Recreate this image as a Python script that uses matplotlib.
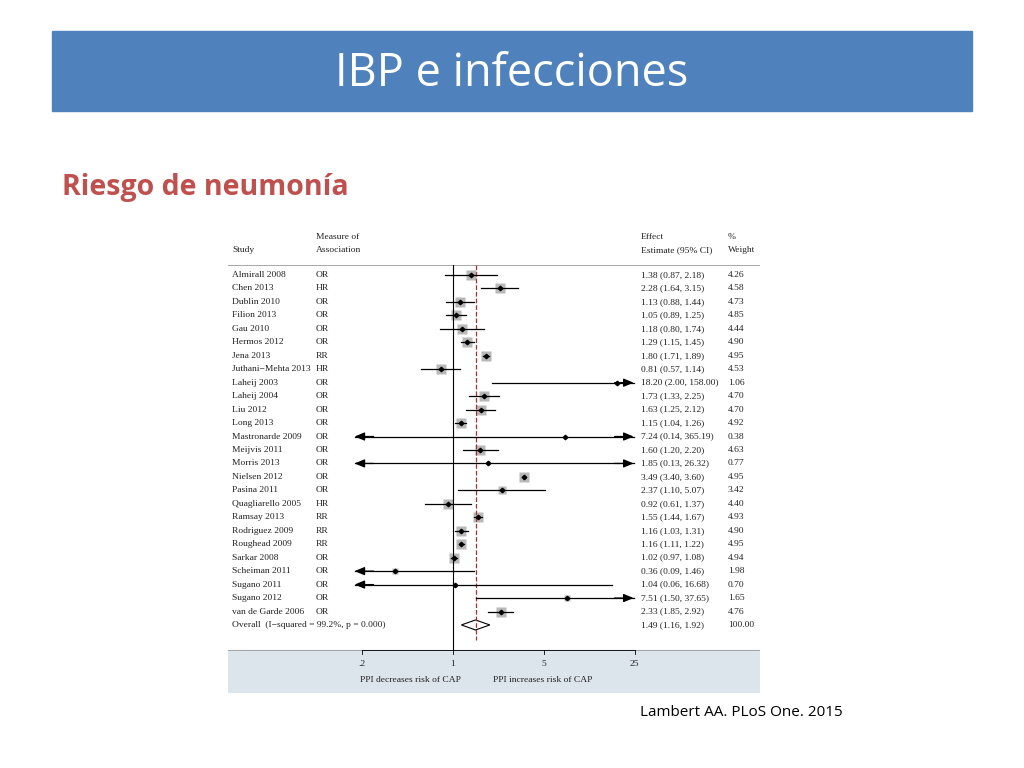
import numpy as np
import matplotlib
matplotlib.use('Agg')
import matplotlib.pyplot as plt
from matplotlib.patches import Rectangle, Polygon

studies = ["Almirall 2008", "Chen 2013", "Dublin 2010", "Filion 2013", "Gau 2010",
           "Hermos 2012", "Jena 2013", "Juthani\u2212Mehta 2013", "Laheij 2003", "Laheij 2004",
           "Liu 2012", "Long 2013", "Mastronarde 2009", "Meijvis 2011", "Morris 2013",
           "Nielsen 2012", "Pasina 2011", "Quagliarello 2005", "Ramsay 2013", "Rodriguez 2009",
           "Roughead 2009", "Sarkar 2008", "Scheiman 2011", "Sugano 2011", "Sugano 2012",
           "van de Garde 2006"]
measure = ["OR", "HR", "OR", "OR", "OR", "OR", "RR", "HR", "OR", "OR", "OR", "OR", "OR",
           "OR", "OR", "OR", "OR", "HR", "RR", "RR", "RR", "OR", "OR", "OR", "OR", "OR"]
est = [1.38, 2.28, 1.13, 1.05, 1.18, 1.29, 1.80, 0.81, 18.20, 1.73, 1.63, 1.15, 7.24,
       1.60, 1.85, 3.49, 2.37, 0.92, 1.55, 1.16, 1.16, 1.02, 0.36, 1.04, 7.51, 2.33]
lo = [0.87, 1.64, 0.88, 0.89, 0.80, 1.15, 1.71, 0.57, 2.00, 1.33, 1.25, 1.04, 0.14,
      1.20, 0.13, 3.40, 1.10, 0.61, 1.44, 1.03, 1.11, 0.97, 0.09, 0.06, 1.50, 1.85]
hi = [2.18, 3.15, 1.44, 1.25, 1.74, 1.45, 1.89, 1.14, 158.00, 2.25, 2.12, 1.26, 365.19,
      2.20, 26.32, 3.60, 5.07, 1.37, 1.67, 1.31, 1.22, 1.08, 1.46, 16.68, 37.65, 2.92]
weight = [4.26, 4.58, 4.73, 4.85, 4.44, 4.90, 4.95, 4.53, 1.06, 4.70, 4.70, 4.92, 0.38,
          4.63, 0.77, 4.95, 3.42, 4.40, 4.93, 4.90, 4.95, 4.94, 1.98, 0.70, 1.65, 4.76]
overall = (1.49, 1.16, 1.92)
overall_label = "Overall  (I\u2212squared = 99.2%, p = 0.000)"
ticks = [0.2, 1, 5, 25]
tick_labels = [".2", "1", "5", "25"]

fig = plt.figure(figsize=(10.24, 7.68), dpi=100)
bg = fig.add_axes([0, 0, 1, 1])
bg.set_xlim(0, 1024); bg.set_ylim(768, 0); bg.axis('off')
bg.add_patch(Rectangle((52, 31), 920, 80, color='#4f81bd'))
bg.text(512, 74, "IBP e infecciones", color='white', fontsize=32.5, family='Open Sans',
        ha='center', va='center')
bg.text(62, 188, "Riesgo de neumonía", color='#c0504d', fontsize=20.5, family='Open Sans',
        weight='bold', ha='left', va='center')
bg.text(640, 713, "Lambert AA. PLoS One. 2015", fontsize=11, family='Open Sans',
        ha='left', va='center')

# forest plot area in pixels: x 228-760, y 228-693
x0, x1, y0, y1 = 228, 760, 228, 693
ax = fig.add_axes([x0 / 1024, 1 - y1 / 768, (x1 - x0) / 1024, (y1 - y0) / 768])
ax.set_xscale('log')

def v(px):
    return 10 ** ((px - 453) / 130.0)

ax.set_xlim(v(x0), v(x1))
ax.set_ylim(y1, y0)
ax.axis('off')
ax.add_patch(Rectangle((v(x0), 650), v(x1) - v(x0), 43, color='#dce4ec', zorder=0))

tf = dict(fontsize=6.8, family='Liberation Serif', color='#222222')
ax.text(v(232), 250, "Study", va='center', **tf)
ax.text(v(316), 237, "Measure of", va='center', **tf)
ax.text(v(316), 250, "Association", va='center', **tf)
ax.text(v(641), 237, "Effect", va='center', **tf)
ax.text(v(641), 250, "Estimate (95% CI)", va='center', **tf)
ax.text(v(728), 237, "%", va='center', **tf)
ax.text(v(728), 250, "Weight", va='center', **tf)
ax.plot([v(x0), v(x1)], [265, 265], color='#999999', lw=0.6)
ax.plot([v(x0), v(x1)], [650, 650], color='#999999', lw=0.6)

ax.plot([1, 1], [265, 650], color='black', lw=0.8)
ax.plot([overall[0]] * 2, [265, 640], color='#a0342a', lw=0.9, ls='--')

clip_lo, clip_hi = 0.175, 24.5
step = 13.46
arrow = dict(arrowstyle='-|>,head_length=0.6,head_width=0.25', color='black', lw=0.9,
             shrinkA=0, shrinkB=0)
for i, s in enumerate(studies):
    y = 275 + step * i
    l = max(lo[i], clip_lo)
    h = min(hi[i], clip_hi)
    ax.plot([l, h], [y, y], color='black', lw=0.9, zorder=2)
    if lo[i] < clip_lo:
        ax.annotate('', xy=(l, y), xytext=(l * 1.4, y), arrowprops=arrow)
    if hi[i] > clip_hi:
        ax.annotate('', xy=(h, y), xytext=(h / 1.4, y), arrowprops=arrow)
    ax.plot(est[i], y, marker='s', ms=3.3 * np.sqrt(weight[i]), color='#b8b8b8',
            mec='none', zorder=1)
    ax.plot(est[i], y, marker='D', ms=2.3, color='black', zorder=3)
    ax.text(v(232), y, s, va='center', **tf)
    ax.text(v(316), y, measure[i], va='center', **tf)
    ax.text(v(641), y, "%.2f (%.2f, %.2f)" % (est[i], lo[i], hi[i]), va='center', **tf)
    ax.text(v(728), y, "%.2f" % weight[i], va='center', **tf)

yo = 275 + step * len(studies)
ax.add_patch(Polygon([(overall[1], yo), (overall[0], yo - 5), (overall[2], yo),
                      (overall[0], yo + 5)], closed=True, fc='white', ec='black', lw=0.8))
ax.text(v(232), yo, overall_label, va='center', **tf)
ax.text(v(641), yo, "%.2f (%.2f, %.2f)" % overall, va='center', **tf)
ax.text(v(728), yo, "100.00", va='center', **tf)

for t, lab in zip(ticks, tick_labels):
    ax.plot([t, t], [650, 654], color='black', lw=0.6)
    ax.text(t, 664, lab, ha='center', va='center', **tf)
ax.plot([ticks[0], ticks[-1]], [650, 650], color='black', lw=0.6)
ax.text(v(410), 680, "PPI decreases risk of CAP", ha='center', va='center', **tf)
ax.text(v(543), 680, "PPI increases risk of CAP", ha='center', va='center', **tf)

fig.savefig("out.png", dpi=100)
